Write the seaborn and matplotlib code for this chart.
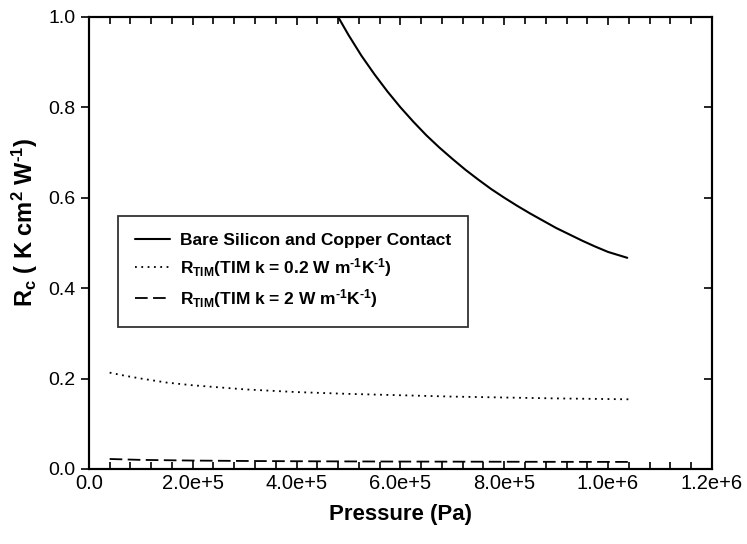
import seaborn as sns
import matplotlib.pyplot as plt
from matplotlib.ticker import MultipleLocator, FuncFormatter

# Bare silicon / copper contact
bare_p = [4.8e5, 5.0e5, 5.25e5, 5.5e5, 5.75e5, 6.0e5, 6.25e5, 6.5e5, 6.75e5, 7.0e5, 7.25e5, 7.5e5,
          7.75e5, 8.0e5, 8.25e5, 8.5e5, 8.75e5, 9.0e5, 9.25e5, 9.5e5, 9.75e5, 1.0e6, 1.037e6]
bare_r = [1.0, 0.960, 0.914, 0.873, 0.835, 0.800, 0.768, 0.738, 0.711, 0.686, 0.662, 0.640,
          0.619, 0.600, 0.582, 0.565, 0.549, 0.533, 0.519, 0.505, 0.492, 0.480, 0.467]

# TIM k = 0.2
tim02_p = [4e4, 7e4, 1e5, 1.5e5, 2e5, 3e5, 4e5, 5e5, 6e5, 7e5, 8e5, 9e5, 1.04e6]
tim02_r = [0.213, 0.206, 0.200, 0.191, 0.185, 0.176, 0.170, 0.166, 0.163, 0.160, 0.158, 0.156, 0.154]

# TIM k = 2
tim2_p = [4e4, 1e5, 2e5, 3e5, 4e5, 5e5, 6e5, 7e5, 8e5, 9e5, 1.04e6]
tim2_r = [0.022, 0.020, 0.0185, 0.0176, 0.017, 0.0166, 0.0163, 0.0161, 0.0159, 0.0157, 0.0155]

labels = [
    "Bare Silicon and Copper Contact",
    r"$R_{TIM}$(TIM k = 0.2 W m$^{\text{-}1}$K$^{\text{-}1}$)",
    r"$R_{TIM}$(TIM k = 2 W m$^{\text{-}1}$K$^{\text{-}1}$)",
]


def sci_fmt(v, _):
    if v == 0:
        return "0.0"
    return ("%.1e" % v).replace("e+0", "e+")


sns.set_style("ticks")
plt.rcParams['font.family'] = ['Liberation Sans', 'DejaVu Sans']
plt.rcParams['mathtext.fontset'] = 'custom'
plt.rcParams['mathtext.rm'] = 'Liberation Sans:bold'
plt.rcParams['mathtext.it'] = 'Liberation Sans:bold'
plt.rcParams['mathtext.bf'] = 'Liberation Sans:bold'
for key in ('text.color', 'axes.labelcolor', 'xtick.color', 'ytick.color', 'axes.edgecolor'):
    plt.rcParams[key] = 'black'

fig, ax = plt.subplots(figsize=(7.47, 5.44), dpi=100)
fig.subplots_adjust(left=0.119, right=0.953, top=0.969, bottom=0.138)

sns.lineplot(x=bare_p, y=bare_r, ax=ax, color='black', lw=1.5, linestyle='-', label=labels[0])
sns.lineplot(x=tim02_p, y=tim02_r, ax=ax, color='black', lw=1.3, linestyle=(0, (1, 2.5)), label=labels[1])
sns.lineplot(x=tim2_p, y=tim2_r, ax=ax, color='black', lw=1.3, linestyle=(0, (7, 3)), label=labels[2])

ax.set_xlim(0, 1.2e6)
ax.set_ylim(0, 1.0)
ax.xaxis.set_major_locator(MultipleLocator(2e5))
ax.xaxis.set_minor_locator(MultipleLocator(4e4))
ax.yaxis.set_major_locator(MultipleLocator(0.2))
ax.xaxis.set_major_formatter(FuncFormatter(sci_fmt))
ax.yaxis.set_major_formatter(FuncFormatter(lambda v, _: "%.1f" % v))

ax.tick_params(axis='x', which='both', direction='in', top=True, bottom=True, labelsize=14.5, width=1.2)
ax.tick_params(axis='x', which='major', length=6)
ax.tick_params(axis='x', which='minor', length=5)
ax.tick_params(axis='y', which='major', direction='out', left=True, right=False, labelsize=14, length=6, width=1.2)

# right-hand ticks point inward
ax_r = ax.twinx()
ax_r.set_ylim(ax.get_ylim())
ax_r.yaxis.set_major_locator(MultipleLocator(0.2))
ax_r.tick_params(axis='y', direction='in', length=6, width=1.2, labelright=False)

for a in (ax, ax_r):
    for s in a.spines.values():
        s.set_linewidth(1.5)
        s.set_color('black')

ax.set_xlabel("Pressure (Pa)", fontsize=16, fontweight='bold', labelpad=8)
ax.set_ylabel(r"R$_c$ ( K cm$^2$ W$^{\text{-}1}$)", fontsize=17, fontweight='bold')
ax.yaxis.set_label_coords(-0.078, 0.546)

leg = ax.legend(loc='upper left', bbox_to_anchor=(0.0465, 0.560), fontsize=12.5, frameon=True,
                fancybox=False, edgecolor='black', handlelength=2.0, handletextpad=0.57,
                borderpad=1.0, labelspacing=0.45, borderaxespad=0.0)
leg.get_frame().set_linewidth(1.3)
for txt in leg.get_texts():
    txt.set_fontweight('bold')

fig.savefig("out.png", dpi=100)
